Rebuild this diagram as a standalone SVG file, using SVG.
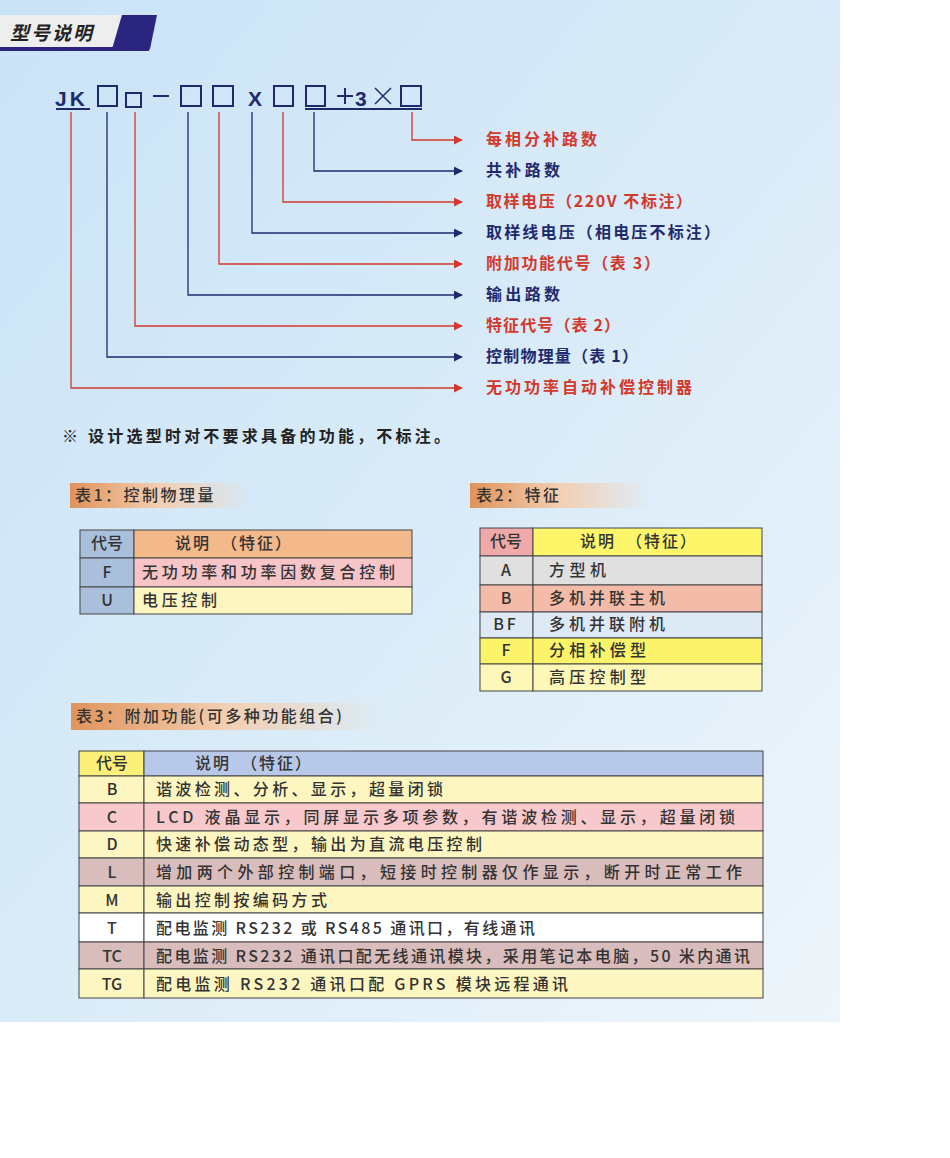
<svg xmlns="http://www.w3.org/2000/svg" width="950" height="1158" viewBox="0 0 950 1158">
<defs>
<linearGradient id="bg" x1="0" y1="0" x2="1" y2="1"><stop offset="0" stop-color="#c9e3f7"/><stop offset="0.5" stop-color="#d9ebf8"/><stop offset="1" stop-color="#eef5fb"/></linearGradient>
<linearGradient id="tt" x1="0" y1="0" x2="1" y2="0"><stop offset="0" stop-color="#e0935a"/><stop offset="0.5" stop-color="#f3cfb2"/><stop offset="1" stop-color="#f3cfb2" stop-opacity="0"/></linearGradient>
<marker id="ar" viewBox="0 0 10 10" refX="9" refY="5" markerWidth="9" markerHeight="9" markerUnits="userSpaceOnUse" orient="auto"><path d="M0,0 L10,5 L0,10 z" fill="#d2392c"/></marker>
<marker id="ab" viewBox="0 0 10 10" refX="9" refY="5" markerWidth="9" markerHeight="9" markerUnits="userSpaceOnUse" orient="auto"><path d="M0,0 L10,5 L0,10 z" fill="#1f2a6e"/></marker>
</defs>
<style>
text{font-family:"Noto Sans CJK SC","Liberation Sans",sans-serif;}
.c{font-size:21px;font-weight:bold;fill:#1f2a6e;font-family:"Liberation Sans","Noto Sans CJK SC",sans-serif}
.lr{font-size:16px;fill:#d2392c;font-weight:bold}
.lb{font-size:16px;fill:#1f2a6e;font-weight:bold}
.r{stroke:#d2392c;stroke-width:1.3;fill:none;marker-end:url(#ar)}
.b{stroke:#1f2a6e;stroke-width:1.3;fill:none;marker-end:url(#ab)}
.bx{fill:none;stroke:#1f2a6e;stroke-width:2}
.t{font-size:16px;fill:#333;font-weight:500}
.tm{font-size:16px;fill:#333;text-anchor:middle;font-weight:500}
.cell{stroke:#444;stroke-width:1}
.ti{font-size:16px;fill:#333;letter-spacing:2.5px;font-weight:500}
</style>
<rect width="950" height="1158" fill="#fff"/>
<rect width="840" height="1022" fill="url(#bg)"/>
<g id="header">
<path d="M0,15 H122 L112,49 H0 Z" fill="#eeeeee"/>
<path d="M122,15 H157 L150,49 H112 Z" fill="#2a2680"/>
<path d="M0,47 H150 L149,51 H0 Z" fill="#2a2680"/>
<text x="10" y="40" font-size="19" font-weight="bold" font-style="italic" fill="#222" letter-spacing="2">型号说明</text>
</g>
<g id="code">
<text x="55" y="106" class="c" letter-spacing="3">JK</text>
<rect x="98" y="86" width="19" height="20" class="bx"/>
<rect x="126" y="93" width="15" height="14" class="bx"/>
<line x1="153" y1="96" x2="169" y2="96" stroke="#1f2a6e" stroke-width="2"/>
<rect x="181" y="86" width="20" height="20" class="bx"/>
<rect x="213" y="86" width="20" height="20" class="bx"/>
<text x="248" y="106" class="c">X</text>
<rect x="274" y="86" width="19" height="20" class="bx"/>
<rect x="306" y="86" width="19" height="20" class="bx"/>
<path d="M337,96 H353 M345,88 V104" stroke="#1f2a6e" stroke-width="2"/>
<text x="355" y="106" class="c">3</text>
<path d="M375,88 L391,104 M391,88 L375,104" stroke="#1f2a6e" stroke-width="1.5"/>
<rect x="401" y="86" width="20" height="20" class="bx"/>
<line x1="56" y1="109" x2="90" y2="109" stroke="#1f2a6e" stroke-width="2"/>
<line x1="305" y1="109" x2="422" y2="109" stroke="#1f2a6e" stroke-width="2"/>
</g>
<g id="connectors">
<path d="M412,112 V140 H462" class="r"/>
<path d="M314,112 V171 H462" class="b"/>
<path d="M283,112 V202 H462" class="r"/>
<path d="M252,112 V233 H462" class="b"/>
<path d="M219,112 V264 H462" class="r"/>
<path d="M188,112 V295 H462" class="b"/>
<path d="M135,112 V326 H462" class="r"/>
<path d="M107,112 V357 H462" class="b"/>
<path d="M71,112 V388 H462" class="r"/>
</g>
<g id="labels">
<text x="486" y="145" class="lr" textLength="111" lengthAdjust="spacing">每相分补路数</text>
<text x="486" y="176" class="lb" textLength="74" lengthAdjust="spacing">共补路数</text>
<text x="486" y="207" class="lr" textLength="206" lengthAdjust="spacing">取样电压（220V 不标注）</text>
<text x="486" y="238" class="lb" textLength="234" lengthAdjust="spacing">取样线电压（相电压不标注）</text>
<text x="486" y="269" class="lr" textLength="174" lengthAdjust="spacing">附加功能代号（表 3）</text>
<text x="486" y="300" class="lb" textLength="74" lengthAdjust="spacing">输出路数</text>
<text x="486" y="331" class="lr" textLength="134" lengthAdjust="spacing">特征代号（表 2）</text>
<text x="486" y="362" class="lb" textLength="152" lengthAdjust="spacing">控制物理量（表 1）</text>
<text x="486" y="393" class="lr" textLength="206" lengthAdjust="spacing">无功功率自动补偿控制器</text>
</g>
<text id="note" x="62" y="442" font-size="16" font-weight="bold" fill="#222" textLength="388" lengthAdjust="spacing">※ 设计选型时对不要求具备的功能，不标注。</text>
<g id="table1">
<rect x="70" y="483" width="180" height="25" fill="url(#tt)"/>
<text x="75" y="501" class="ti">表1：控制物理量</text>
<rect x="80" y="530" width="54" height="28" fill="#a9bfdc" class="cell"/>
<rect x="134" y="530" width="278" height="28" fill="#f4b98a" class="cell"/>
<rect x="80" y="558" width="54" height="29" fill="#a9bfdc" class="cell"/>
<rect x="134" y="558" width="278" height="29" fill="#f7c4c8" class="cell"/>
<rect x="80" y="587" width="54" height="27" fill="#a9bfdc" class="cell"/>
<rect x="134" y="587" width="278" height="27" fill="#fdf6c0" class="cell"/>
<text x="107" y="549" class="tm">代号</text>
<text x="175" y="549" class="t" letter-spacing="2">说明　（特征）</text>
<text x="107" y="578" class="tm">F</text>
<text x="142" y="578" class="t" textLength="253" lengthAdjust="spacing">无功功率和功率因数复合控制</text>
<text x="107" y="606" class="tm">U</text>
<text x="142" y="606" class="t" textLength="75" lengthAdjust="spacing">电压控制</text>
</g>
<g id="table2">
<rect x="470" y="483" width="180" height="25" fill="url(#tt)"/>
<text x="476" y="501" class="ti">表2：特征</text>
<rect x="480" y="528" width="53" height="28" fill="#f0a9a9" class="cell"/>
<rect x="533" y="528" width="229" height="28" fill="#fdf56a" class="cell"/>
<rect x="480" y="556" width="53" height="29" fill="#e0e0e0" class="cell"/>
<rect x="533" y="556" width="229" height="29" fill="#e0e0e0" class="cell"/>
<rect x="480" y="585" width="53" height="27" fill="#f4bba8" class="cell"/>
<rect x="533" y="585" width="229" height="27" fill="#f4bba8" class="cell"/>
<rect x="480" y="612" width="53" height="26" fill="#dde9f5" class="cell"/>
<rect x="533" y="612" width="229" height="26" fill="#dde9f5" class="cell"/>
<rect x="480" y="638" width="53" height="26" fill="#fbf36a" class="cell"/>
<rect x="533" y="638" width="229" height="26" fill="#fbf36a" class="cell"/>
<rect x="480" y="664" width="53" height="27" fill="#fdf7b8" class="cell"/>
<rect x="533" y="664" width="229" height="27" fill="#fdf7b8" class="cell"/>
<text x="506" y="547" class="tm">代号</text>
<text x="580" y="547" class="t" letter-spacing="2">说明　（特征）</text>
<text x="506" y="576" class="tm">A</text><text x="549" y="576" class="t" textLength="57" lengthAdjust="spacing">方型机</text>
<text x="506" y="604" class="tm">B</text><text x="549" y="604" class="t" textLength="116" lengthAdjust="spacing">多机并联主机</text>
<text x="506" y="630" class="tm" letter-spacing="3">BF</text><text x="549" y="630" class="t" textLength="116" lengthAdjust="spacing">多机并联附机</text>
<text x="506" y="656" class="tm">F</text><text x="549" y="656" class="t" textLength="97" lengthAdjust="spacing">分相补偿型</text>
<text x="506" y="683" class="tm">G</text><text x="549" y="683" class="t" textLength="97" lengthAdjust="spacing">高压控制型</text>
</g>
<g id="table3">
<rect x="71" y="703" width="310" height="27" fill="url(#tt)"/>
<text x="76" y="722" class="ti">表3：附加功能(可多种功能组合)</text>
<g class="cell">
<rect x="79" y="751" width="65" height="25" fill="#faf07a"/><rect x="144" y="751" width="619" height="25" fill="#b8c8e8"/>
<rect x="79" y="776" width="65" height="27" fill="#fdf6c0"/><rect x="144" y="776" width="619" height="27" fill="#fdf6c0"/>
<rect x="79" y="803" width="65" height="28" fill="#f7c8cc"/><rect x="144" y="803" width="619" height="28" fill="#f7c8cc"/>
<rect x="79" y="831" width="65" height="27" fill="#fdf6c0"/><rect x="144" y="831" width="619" height="27" fill="#fdf6c0"/>
<rect x="79" y="858" width="65" height="28" fill="#d9bcbc"/><rect x="144" y="858" width="619" height="28" fill="#d9bcbc"/>
<rect x="79" y="886" width="65" height="27" fill="#fdf6c0"/><rect x="144" y="886" width="619" height="27" fill="#fdf6c0"/>
<rect x="79" y="913" width="65" height="29" fill="#ffffff"/><rect x="144" y="913" width="619" height="29" fill="#ffffff"/>
<rect x="79" y="942" width="65" height="27" fill="#d9bcbc"/><rect x="144" y="942" width="619" height="27" fill="#d9bcbc"/>
<rect x="79" y="969" width="65" height="29" fill="#fdf6c0"/><rect x="144" y="969" width="619" height="29" fill="#fdf6c0"/>
</g>
<text x="112" y="769" class="tm">代号</text><text x="195" y="769" class="t" letter-spacing="2">说明　（特征）</text>
<text x="112" y="795" class="tm">B</text><text x="156" y="795" class="t" textLength="287" lengthAdjust="spacing">谐波检测、分析、显示，超量闭锁</text>
<text x="112" y="823" class="tm">C</text><text x="156" y="823" class="t" textLength="579" lengthAdjust="spacing">LCD 液晶显示，同屏显示多项参数，有谐波检测、显示，超量闭锁</text>
<text x="112" y="850" class="tm">D</text><text x="156" y="850" class="t" textLength="326" lengthAdjust="spacing">快速补偿动态型，输出为直流电压控制</text>
<text x="112" y="878" class="tm">L</text><text x="156" y="878" class="t" textLength="586" lengthAdjust="spacing">增加两个外部控制端口，短接时控制器仅作显示，断开时正常工作</text>
<text x="112" y="906" class="tm">M</text><text x="156" y="906" class="t" textLength="171" lengthAdjust="spacing">输出控制按编码方式</text>
<text x="112" y="934" class="tm">T</text><text x="156" y="934" class="t" textLength="379" lengthAdjust="spacing">配电监测 RS232 或 RS485 通讯口，有线通讯</text>
<text x="112" y="962" class="tm">TC</text><text x="156" y="962" class="t" textLength="594" lengthAdjust="spacing">配电监测 RS232 通讯口配无线通讯模块，采用笔记本电脑，50 米内通讯</text>
<text x="112" y="990" class="tm">TG</text><text x="156" y="990" class="t" textLength="412" lengthAdjust="spacing">配电监测 RS232 通讯口配 GPRS 模块远程通讯</text>
</g>
</svg>
